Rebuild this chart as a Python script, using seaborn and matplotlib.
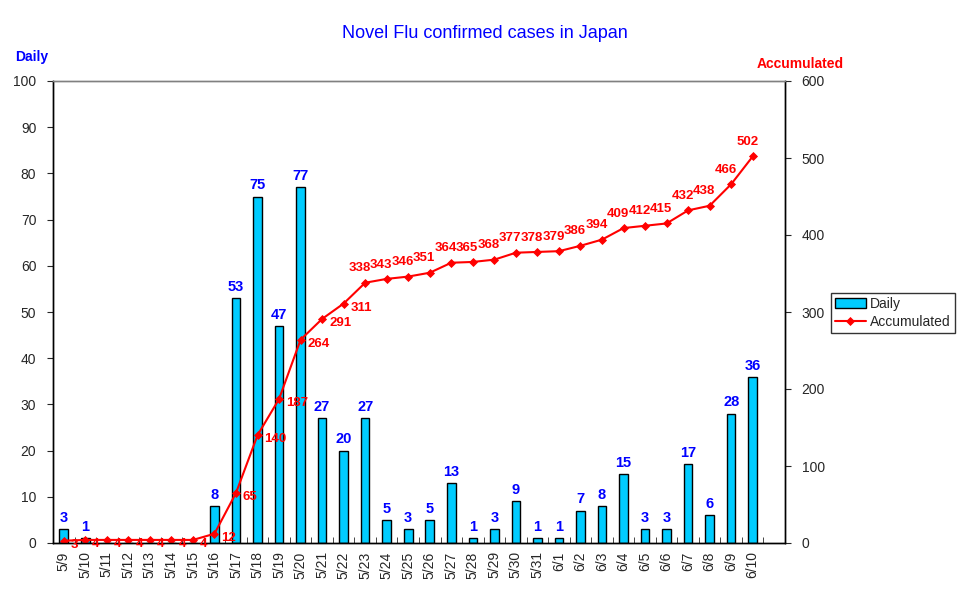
import numpy as np
import pandas as pd
import matplotlib
matplotlib.use('Agg')
import matplotlib.pyplot as plt
import seaborn as sns

# data
dates = ['5/9', '5/10', '5/11', '5/12', '5/13', '5/14', '5/15', '5/16', '5/17',
         '5/18', '5/19', '5/20', '5/21', '5/22', '5/23', '5/24', '5/25', '5/26',
         '5/27', '5/28', '5/29', '5/30', '5/31', '6/1', '6/2', '6/3', '6/4',
         '6/5', '6/6', '6/7', '6/8', '6/9', '6/10']
daily = [3, 1, 0, 0, 0, 0, 0, 8, 53, 75, 47, 77, 27, 20, 27, 5, 3, 5, 13, 1,
         3, 9, 1, 1, 7, 8, 15, 3, 3, 17, 6, 28, 36]
accumulated = [3, 4, 4, 4, 4, 4, 4, 12, 65, 140, 187, 264, 291, 311, 338, 343,
               346, 351, 364, 365, 368, 377, 378, 379, 386, 394, 409, 412, 415,
               432, 438, 466, 502]

df = pd.DataFrame({'date': dates, 'daily': daily, 'accumulated': accumulated})
n = len(dates)

sns.set_style('white')
plt.rcParams['font.family'] = ['Liberation Sans', 'DejaVu Sans']

fig = plt.figure(figsize=(9.7, 6.04), dpi=100)
ax = fig.add_axes([53 / 970, 61 / 604, 732 / 970, 462 / 604])

sns.barplot(data=df, x='date', y='daily', order=dates, color='#00CCFF',
            edgecolor='black', linewidth=1, width=0.4, saturation=1, ax=ax,
            label='Daily')
ax.set_ylim(0, 100)
ax.set_yticks(range(0, 101, 10))
ax.set_xlabel('')
ax.set_ylabel('')

ax2 = ax.twinx()
sns.pointplot(data=df, x='date', y='accumulated', order=dates, color='red',
              marker='D', markersize=3.5, linewidth=1.5, ax=ax2,
              label='Accumulated')
ax2.set_ylim(0, 600)
ax2.set_yticks(range(0, 601, 100))
ax2.set_ylabel('')

# one empty slot after the last day, as in the original
for a in (ax, ax2):
    a.set_xlim(-0.5, n + 0.5)
    if a.get_legend() is not None:
        a.get_legend().remove()

# labels on bars
for i, v in enumerate(daily):
    if v > 0:
        ax.annotate(str(v), (i, v), xytext=(0, 3), textcoords='offset points',
                    ha='center', va='bottom', color='#0000FF',
                    fontsize=10.5, fontweight='bold')

# labels on line
for i, v in enumerate(accumulated):
    if i < 14:
        ax2.annotate(str(v), (i, v), xytext=(5, -3), textcoords='offset points',
                     ha='left', va='center', color='red',
                     fontsize=9.5, fontweight='bold')
    else:
        ax2.annotate(str(v), (i, v), xytext=(-4, 6), textcoords='offset points',
                     ha='center', va='bottom', color='red',
                     fontsize=9.5, fontweight='bold')

# ticks
ax.set_xticks(range(n))
ax.set_xticklabels(dates, rotation=90, fontsize=10)
ax.set_xticks(np.arange(-0.5, n, 1), minor=True)
ax.tick_params(axis='x', which='major', length=0, pad=6)
ax.tick_params(axis='x', which='minor', length=4, direction='in', bottom=True)
ax.tick_params(axis='y', which='major', length=4, direction='out', left=True,
               labelsize=10, pad=8)
ax2.tick_params(axis='y', which='major', length=4, direction='out', right=True,
                labelsize=10, pad=8)

for a in (ax, ax2):
    for s in a.spines.values():
        s.set_color('black')
        s.set_linewidth(1)
ax.spines['top'].set_color('#808080')
ax2.spines['top'].set_color('#808080')

fig.text(485 / 970, 1 - 34 / 604, 'Novel Flu confirmed cases in Japan',
         ha='center', va='center', color='#0000FF', fontsize=13)
fig.text(15 / 970, 1 - 57 / 604, 'Daily', ha='left', va='center',
         color='#0000FF', fontsize=10, fontweight='bold')
fig.text(800 / 970, 1 - 64 / 604, 'Accumulated', ha='center', va='center',
         color='red', fontsize=10, fontweight='bold')

h1, l1 = ax.get_legend_handles_labels()
h2, l2 = ax2.get_legend_handles_labels()
leg = fig.legend(h1[:1] + h2[:1], ['Daily', 'Accumulated'], loc='center left',
                 bbox_to_anchor=(831 / 970, 1 - 313 / 604), frameon=True,
                 fancybox=False, edgecolor='black', fontsize=10,
                 borderpad=0.3, handlelength=2.2, labelspacing=0.3,
                 handletextpad=0.3, borderaxespad=0)
leg.get_frame().set_linewidth(1)

fig.savefig('out.png', dpi=100, facecolor='white')
